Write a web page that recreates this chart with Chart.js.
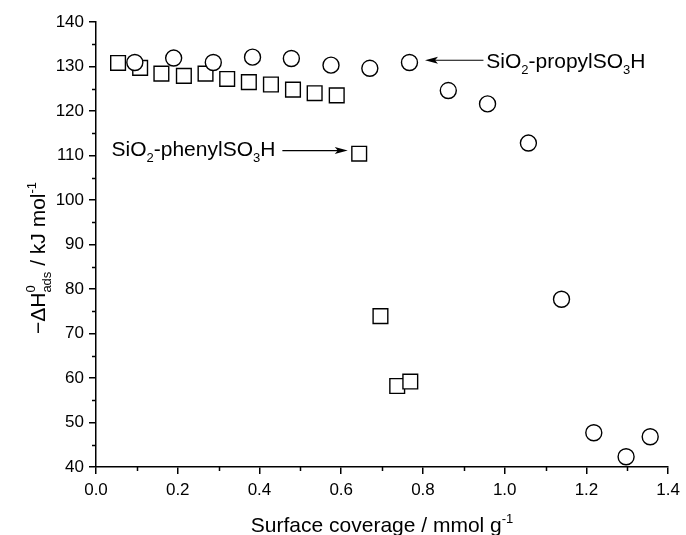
<!DOCTYPE html>
<html>
<head>
<meta charset="utf-8">
<script src="https://cdn.jsdelivr.net/npm/chart.js@4/dist/chart.umd.min.js"></script>
<style>
  body { margin: 0; background: #fff; }
  #wrap { width: 686px; height: 535px; }
</style>
</head>
<body>
<div id="wrap"><canvas id="myChart" width="686" height="535"></canvas></div>
<script>
// valeurs
const propylX = [0.095, 0.19, 0.287, 0.383, 0.478, 0.575, 0.67, 0.767, 0.862, 0.958, 1.058, 1.139, 1.218, 1.297, 1.356];
const propylY = [130.9, 131.9, 130.9, 132.1, 131.8, 130.3, 129.6, 130.9, 124.6, 121.6, 112.8, 77.7, 47.7, 42.3, 46.8];
const phenylX = [0.054, 0.108, 0.160, 0.215, 0.268, 0.321, 0.374, 0.428, 0.482, 0.535, 0.589, 0.644, 0.696, 0.737, 0.769];
const phenylY = [130.8, 129.7, 128.4, 127.9, 128.4, 127.2, 126.5, 125.95, 124.8, 124.0, 123.5, 110.4, 73.9, 58.2, 59.2];
const xTicks = [0.0, 0.2, 0.4, 0.6, 0.8, 1.0, 1.2, 1.4];
const yTicks = [40, 50, 60, 70, 80, 90, 100, 110, 120, 130, 140];

const FONT = "'Liberation Sans', Arial, sans-serif";

function toPoints(xs, ys) {
  return xs.map((x, i) => ({ x: x, y: ys[i] }));
}

// texte avec indices / exposants
function drawRich(ctx, segs, x, y, align) {
  let w = 0;
  segs.forEach(s => {
    ctx.font = s.size + 'px ' + FONT;
    const sw = ctx.measureText(s.t).width;
    s.w = sw;
    if (!s.stack) w += sw;
  });
  let cx = align === 'center' ? x - w / 2 : x;
  let last = 0;
  segs.forEach(s => {
    ctx.font = s.size + 'px ' + FONT;
    if (s.stack) {
      ctx.fillText(s.t, cx, y + (s.dy || 0));
      last = s.w;
    } else {
      ctx.fillText(s.t, cx, y + (s.dy || 0));
      cx += s.w;
    }
  });
}

const labelPropyl = [
  { t: 'SiO', size: 21 }, { t: '2', size: 13, dy: 6 },
  { t: '-propylSO', size: 21 }, { t: '3', size: 13, dy: 6 }, { t: 'H', size: 21 }
];
const labelPhenyl = [
  { t: 'SiO', size: 21 }, { t: '2', size: 13, dy: 6 },
  { t: '-phenylSO', size: 21 }, { t: '3', size: 13, dy: 6 }, { t: 'H', size: 21 }
];
const titleX = [
  { t: 'Surface coverage / mmol g', size: 21 }, { t: '-1', size: 13, dy: -9 }
];
const titleY = [
  { t: '\u2212\u0394H', size: 21 }, { t: '0', size: 13, dy: -10, stack: true },
  { t: 'ads', size: 13, dy: 6 }, { t: ' / kJ mol', size: 21 }, { t: '-1', size: 13, dy: -9 }
];

function arrow(ctx, x1, y1, x2, y2) {
  const dir = Math.sign(x2 - x1);
  ctx.beginPath();
  ctx.moveTo(x1, y1);
  ctx.lineTo(x2 - dir * 8, y2);
  ctx.lineWidth = 1.2;
  ctx.stroke();
  ctx.beginPath();
  ctx.moveTo(x2, y2);
  ctx.lineTo(x2 - dir * 13, y2 - 3.5);
  ctx.lineTo(x2 - dir * 10, y2);
  ctx.lineTo(x2 - dir * 13, y2 + 3.5);
  ctx.closePath();
  ctx.fill();
}

const decor = {
  id: 'decor',
  afterDraw(chart) {
    const ctx = chart.ctx;
    const xs = chart.scales.x, ys = chart.scales.y;
    ctx.save();
    ctx.fillStyle = '#000';
    ctx.strokeStyle = '#000';
    ctx.textBaseline = 'alphabetic';
    ctx.textAlign = 'left';

    // petites graduations
    ctx.lineWidth = 1.5;
    ctx.beginPath();
    for (let v = 0.1; v < 1.4; v += 0.2) {
      const px = Math.round(xs.getPixelForValue(v)) + 0.5;
      ctx.moveTo(px, xs.top);
      ctx.lineTo(px, xs.top + 4);
    }
    for (let v = 45; v < 140; v += 10) {
      const py = Math.round(ys.getPixelForValue(v)) + 0.5;
      ctx.moveTo(ys.right, py);
      ctx.lineTo(ys.right - 4, py);
    }
    ctx.stroke();

    // annotations
    arrow(ctx, xs.getPixelForValue(0.948), ys.getPixelForValue(131.4),
               xs.getPixelForValue(0.805), ys.getPixelForValue(131.4));
    drawRich(ctx, labelPropyl, xs.getPixelForValue(0.955), ys.getPixelForValue(129.7), 'left');
    arrow(ctx, xs.getPixelForValue(0.456), ys.getPixelForValue(111.1),
               xs.getPixelForValue(0.616), ys.getPixelForValue(111.1));
    drawRich(ctx, labelPhenyl, xs.getPixelForValue(0.038), ys.getPixelForValue(110.0), 'left');

    // titres des axes
    drawRich(ctx, titleX, (xs.left + xs.right) / 2, 532, 'center');
    ctx.translate(45, 258);
    ctx.rotate(-Math.PI / 2);
    drawRich(ctx, titleY, 0, 0, 'center');
    ctx.restore();
  }
};

new Chart(document.getElementById('myChart'), {
  type: 'scatter',
  data: {
    datasets: [
      {
        label: 'SiO2-propylSO3H',
        data: toPoints(propylX, propylY),
        pointStyle: 'circle',
        radius: 8,
        borderWidth: 1.4,
        borderColor: '#000',
        backgroundColor: '#fff'
      },
      {
        label: 'SiO2-phenylSO3H',
        data: toPoints(phenylX, phenylY),
        pointStyle: 'rect',
        radius: 10.4,
        borderWidth: 1.4,
        borderColor: '#000',
        backgroundColor: '#fff'
      }
    ]
  },
  options: {
    responsive: false,
    animation: false,
    layout: { padding: { left: 0, top: 22, right: 12, bottom: 0 } },
    plugins: {
      legend: { display: false },
      tooltip: { enabled: false }
    },
    scales: {
      x: {
        type: 'linear',
        min: 0,
        max: 1.4,
        afterFit: s => { s.height = 68; },
        afterBuildTicks: s => { s.ticks = xTicks.map(v => ({ value: v })); },
        grid: { drawOnChartArea: false, drawTicks: true, tickLength: 7, color: '#000', lineWidth: 1.5 },
        border: { display: true, color: '#000', width: 1.5 },
        ticks: {
          color: '#000',
          padding: 6,
          maxRotation: 0,
          font: { family: FONT, size: 17 },
          callback: v => v.toFixed(1)
        }
      },
      y: {
        type: 'linear',
        min: 40,
        max: 140,
        afterFit: s => { s.width = 96; },
        afterBuildTicks: s => { s.ticks = yTicks.map(v => ({ value: v })); },
        grid: { drawOnChartArea: false, drawTicks: true, tickLength: 7, color: '#000', lineWidth: 1.5 },
        border: { display: true, color: '#000', width: 1.5 },
        ticks: {
          color: '#000',
          padding: 5,
          font: { family: FONT, size: 17 },
          callback: v => String(v)
        }
      }
    }
  },
  plugins: [decor]
});
</script>
</body>
</html>
